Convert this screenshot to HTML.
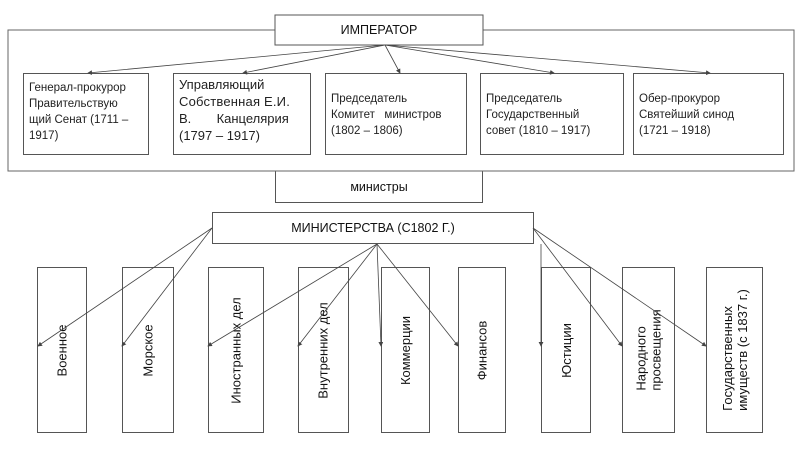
<!DOCTYPE html>
<html><head><meta charset="utf-8"><style>
body{margin:0;width:800px;height:450px;background:#fff;position:relative;overflow:hidden;font-family:"Liberation Sans","DejaVu Sans",sans-serif;color:#111}
.b{position:absolute;border:1px solid #555;background:transparent;box-sizing:border-box}
.t{font-size:11.5px;line-height:15px;padding:6px 5px;color:#222;white-space:nowrap}
.c{display:flex;align-items:center;justify-content:center;font-size:12.5px}
.v{display:flex;align-items:center;justify-content:center}
.v span{transform:rotate(-90deg);white-space:nowrap;font-size:13px;line-height:15px;text-align:left;display:block}
svg{position:absolute;left:0;top:0;z-index:2}
</style></head><body>
<svg width="800" height="450">
<defs><marker id="a" markerWidth="6" markerHeight="6" refX="5" refY="3" orient="auto"><path d="M0,0 L6,3 L0,6z" fill="#444"/></marker></defs>
<rect x="8" y="30" width="786" height="141" fill="none" stroke="#666"/>
<rect x="275" y="15" width="208" height="30" fill="#fff" stroke="#555"/>
<g stroke="#444" stroke-width="0.8" marker-end="url(#a)">
<line x1="385" y1="45" x2="88" y2="73"/>
<line x1="385" y1="45" x2="243" y2="73"/>
<line x1="385" y1="45" x2="400" y2="73"/>
<line x1="385" y1="45" x2="554" y2="73"/>
<line x1="385" y1="45" x2="710" y2="73"/>
<line x1="212" y1="228" x2="38" y2="346"/>
<line x1="212" y1="228" x2="122" y2="346"/>
<line x1="377" y1="244" x2="208" y2="346"/>
<line x1="377" y1="244" x2="298" y2="346"/>
<line x1="377" y1="244" x2="381" y2="346"/>
<line x1="377" y1="244" x2="458" y2="346"/>
<line x1="541" y1="244" x2="541" y2="346"/>
<line x1="533" y1="228" x2="622" y2="346"/>
<line x1="533" y1="228" x2="706" y2="346"/>
</g>
<text x="379" y="34" font-size="12.5" text-anchor="middle" font-family="Liberation Sans, sans-serif" fill="#111">ИМПЕРАТОР</text>
</svg>
<div class="b t" style="left:23px;top:73px;width:126px;height:82px;padding-top:6px;line-height:16px">Генерал-прокурор<br>Правительствую<br>щий Сенат (1711 –<br>1917)</div>
<div class="b t" style="left:173px;top:73px;width:138px;height:82px;font-size:13px;line-height:17px;padding-top:2px">Управляющий<br><span style="letter-spacing:0.2px">Собственная Е.И.</span><br>В.&nbsp;&nbsp;&nbsp;&nbsp;&nbsp;&nbsp;&nbsp;Канцелярия<br>(1797 – 1917)</div>
<div class="b t" style="left:325px;top:73px;width:142px;height:82px;padding-top:17px;line-height:16px">Председатель<br>Комитет&nbsp;&nbsp; министров<br>(1802 – 1806)</div>
<div class="b t" style="left:480px;top:73px;width:144px;height:82px;padding-top:17px;line-height:16px">Председатель<br>Государственный<br>совет (1810 – 1917)</div>
<div class="b t" style="left:633px;top:73px;width:151px;height:82px;padding-top:17px;line-height:16px">Обер-прокурор<br>Святейший синод<br>(1721 – 1918)</div>
<div class="b c" style="left:275px;top:171px;width:208px;height:32px;border-top:none">министры</div>
<div class="b c" style="left:212px;top:212px;width:322px;height:32px">МИНИСТЕРСТВА (С1802 Г.)</div>
<div class="b v" style="left:37px;top:267px;width:50px;height:166px"><span>Военное</span></div>
<div class="b v" style="left:122px;top:267px;width:52px;height:166px"><span>Морское</span></div>
<div class="b v" style="left:208px;top:267px;width:56px;height:166px"><span>Иностранных дел</span></div>
<div class="b v" style="left:298px;top:267px;width:51px;height:166px"><span>Внутренних дел</span></div>
<div class="b v" style="left:381px;top:267px;width:49px;height:166px"><span>Коммерции</span></div>
<div class="b v" style="left:458px;top:267px;width:48px;height:166px"><span>Финансов</span></div>
<div class="b v" style="left:541px;top:267px;width:50px;height:166px"><span>Юстиции</span></div>
<div class="b v" style="left:622px;top:267px;width:53px;height:166px"><span>Народного<br>просвещения</span></div>
<div class="b v" style="left:706px;top:267px;width:57px;height:166px"><span>Государственных<br>имуществ (с 1837 г.)</span></div>
</body></html>
